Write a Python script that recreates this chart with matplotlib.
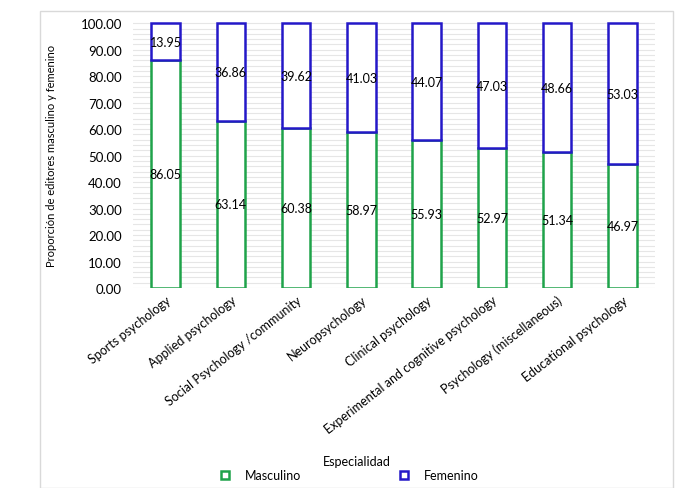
import matplotlib.pyplot as plt
from matplotlib.patches import Rectangle
from matplotlib.lines import Line2D
import numpy as np

plt.rcParams['font.family'] = ['Lato', 'DejaVu Sans']

categories = ['Sports psychology', 'Applied psychology', 'Social Psychology /community',
              'Neuropsychology', 'Clinical psychology', 'Experimental and cognitive psychology',
              'Psychology (miscellaneous)', 'Educational psychology']
masculino = [86.05, 63.14, 60.38, 58.97, 55.93, 52.97, 51.34, 46.97]
femenino = [13.95, 36.86, 39.62, 41.03, 44.07, 47.03, 48.66, 53.03]

green = '#1fa34a'
blue = '#2418c8'

fig = plt.figure(figsize=(6.82, 4.89), dpi=100)
fig.patches.append(Rectangle((40/682, 0), 633/682, 1 - 12/489, transform=fig.transFigure,
                             fill=False, edgecolor='#d9d9d9', linewidth=1))
ax = fig.add_axes([133/682, 1 - 289/489, 522/682, 266/489])

x = np.arange(len(categories))
w = 0.44
ax.bar(x, masculino, width=w, facecolor='white', edgecolor=green, linewidth=1.8, zorder=3)
ax.bar(x, femenino, width=w, bottom=masculino, facecolor='white', edgecolor=blue,
       linewidth=1.8, zorder=3)

for i in range(len(x)):
    ax.text(x[i], masculino[i] / 2, f'{masculino[i]:.2f}', ha='center', va='center',
            fontsize=9, zorder=4)
    ax.text(x[i], masculino[i] + femenino[i] / 2, f'{femenino[i]:.2f}', ha='center',
            va='center', fontsize=9, zorder=4)

ax.set_ylim(0, 100.5)
ax.set_xlim(-0.5, len(x) - 0.5)
ax.set_yticks(np.arange(0, 101, 10))
ax.set_yticklabels([f'{v:.2f}' for v in np.arange(0, 101, 10)], fontsize=9.5)
ax.set_yticks(np.arange(0, 101, 2), minor=True)
ax.grid(axis='y', which='both', color='#e6e6e6', linewidth=0.8, zorder=0)
ax.tick_params(axis='y', which='both', length=0, pad=8)
ax.tick_params(axis='x', length=0, pad=4)
ax.set_xticks(x)
ax.set_xticklabels(categories, rotation=38, ha='right', rotation_mode='anchor', fontsize=9)
for s in ax.spines.values():
    s.set_visible(False)

ax.set_ylabel('Proporción de editores masculino y femenino', fontsize=8)
ax.yaxis.set_label_coords(-0.145, 0.5)

fig.text(357/682, 1 - 462/489, 'Especialidad', ha='center', va='center', fontsize=9)
handles = [Line2D([], [], marker='s', linestyle='none', markerfacecolor='white',
                  markeredgecolor=green, markeredgewidth=1.8, markersize=6),
           Line2D([], [], marker='s', linestyle='none', markerfacecolor='white',
                  markeredgecolor=blue, markeredgewidth=1.8, markersize=6)]
fig.legend(handles, ['Masculino', 'Femenino'], loc='center', bbox_to_anchor=(0.507, 1 - 476/489),
           ncol=2, frameon=False, fontsize=9, columnspacing=7.2, handletextpad=0.6)

plt.savefig('out.png', dpi=100)
